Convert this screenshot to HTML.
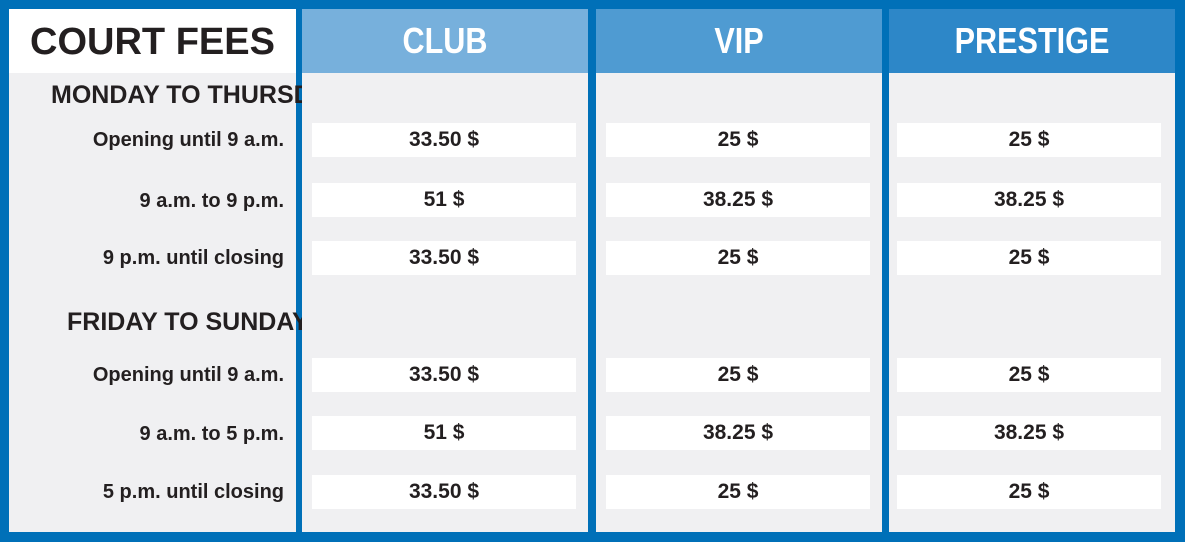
<!DOCTYPE html>
<html><head><meta charset="utf-8">
<style>
body{margin:0;width:1185px;height:542px;background:#0070b8;position:relative;overflow:hidden;font-family:"Liberation Sans Narrow","Liberation Sans",sans-serif;font-weight:bold;color:#231f20}
.a{position:absolute}
.col{position:absolute;top:9px;height:523px;background:#f0f0f2}
.hd{position:absolute;top:0;left:0;right:0;height:64px;color:#fff;font-size:36px;display:flex;align-items:center;justify-content:center;transform:scaleX(.85)}
.cell{position:absolute;background:#fff;height:34px;display:flex;align-items:center;justify-content:center;font-size:21px}
.lbl{position:absolute;right:12px;font-size:20px;text-align:right;white-space:nowrap}
.sec{position:absolute;font-size:25px;white-space:nowrap}
</style></head><body>
<div class="col" style="left:9px;width:287px">
 <div class="a" style="top:0;left:0;width:287px;height:64px;background:#fff"></div>
 <div class="a" style="top:12px;left:0;width:287px;text-align:center;font-size:38px">COURT FEES</div>
 <div class="sec" style="left:42px;top:72px">MONDAY TO THURSDAY</div>
 <div class="lbl" style="top:120px">Opening until 9 a.m.</div>
 <div class="lbl" style="top:181px">9 a.m. to 9 p.m.</div>
 <div class="lbl" style="top:238px">9 p.m. until closing</div>
 <div class="sec" style="left:58px;top:299px">FRIDAY TO SUNDAY</div>
 <div class="lbl" style="top:355px">Opening until 9 a.m.</div>
 <div class="lbl" style="top:414px">9 a.m. to 5 p.m.</div>
 <div class="lbl" style="top:472px">5 p.m. until closing</div>
</div>
<div id="cols"></div>
<script>
const tiers=["CLUB","VIP","PRESTIGE"];
const heads=["#77b0dc","#4f9bd2","#2d87c8"];
const club=["33.50 $","51 $","33.50 $","33.50 $","51 $","33.50 $"];
const vip=["25 $","38.25 $","25 $","25 $","38.25 $","25 $"];
const prestige=["25 $","38.25 $","25 $","25 $","38.25 $","25 $"];
const vals=[club,vip,prestige];
const lefts=[302,596,889];
const rowTops=[114,174,232,349,407,466];
const root=document.getElementById('cols');
tiers.forEach((t,i)=>{
 const c=document.createElement('div');c.className='col';
 c.style.left=lefts[i]+'px';c.style.width='286px';
 
 
 const h=document.createElement('div');h.className='a';
 h.style.cssText='top:0;left:0;width:286px;height:64px;background:'+heads[i];
 
 
 const ht=document.createElement('div');ht.className='hd';ht.textContent=t;
 
 
 h.appendChild(ht);c.appendChild(h);
 vals[i].forEach((v,j)=>{
  const d=document.createElement('div');d.className='cell';
  d.style.left=(i==2?8:10)+'px';d.style.width='264px';d.style.top=rowTops[j]+'px';
  d.textContent=v;
  
  
  c.appendChild(d);
 });
 root.appendChild(c);
});
</script>
</body></html>
